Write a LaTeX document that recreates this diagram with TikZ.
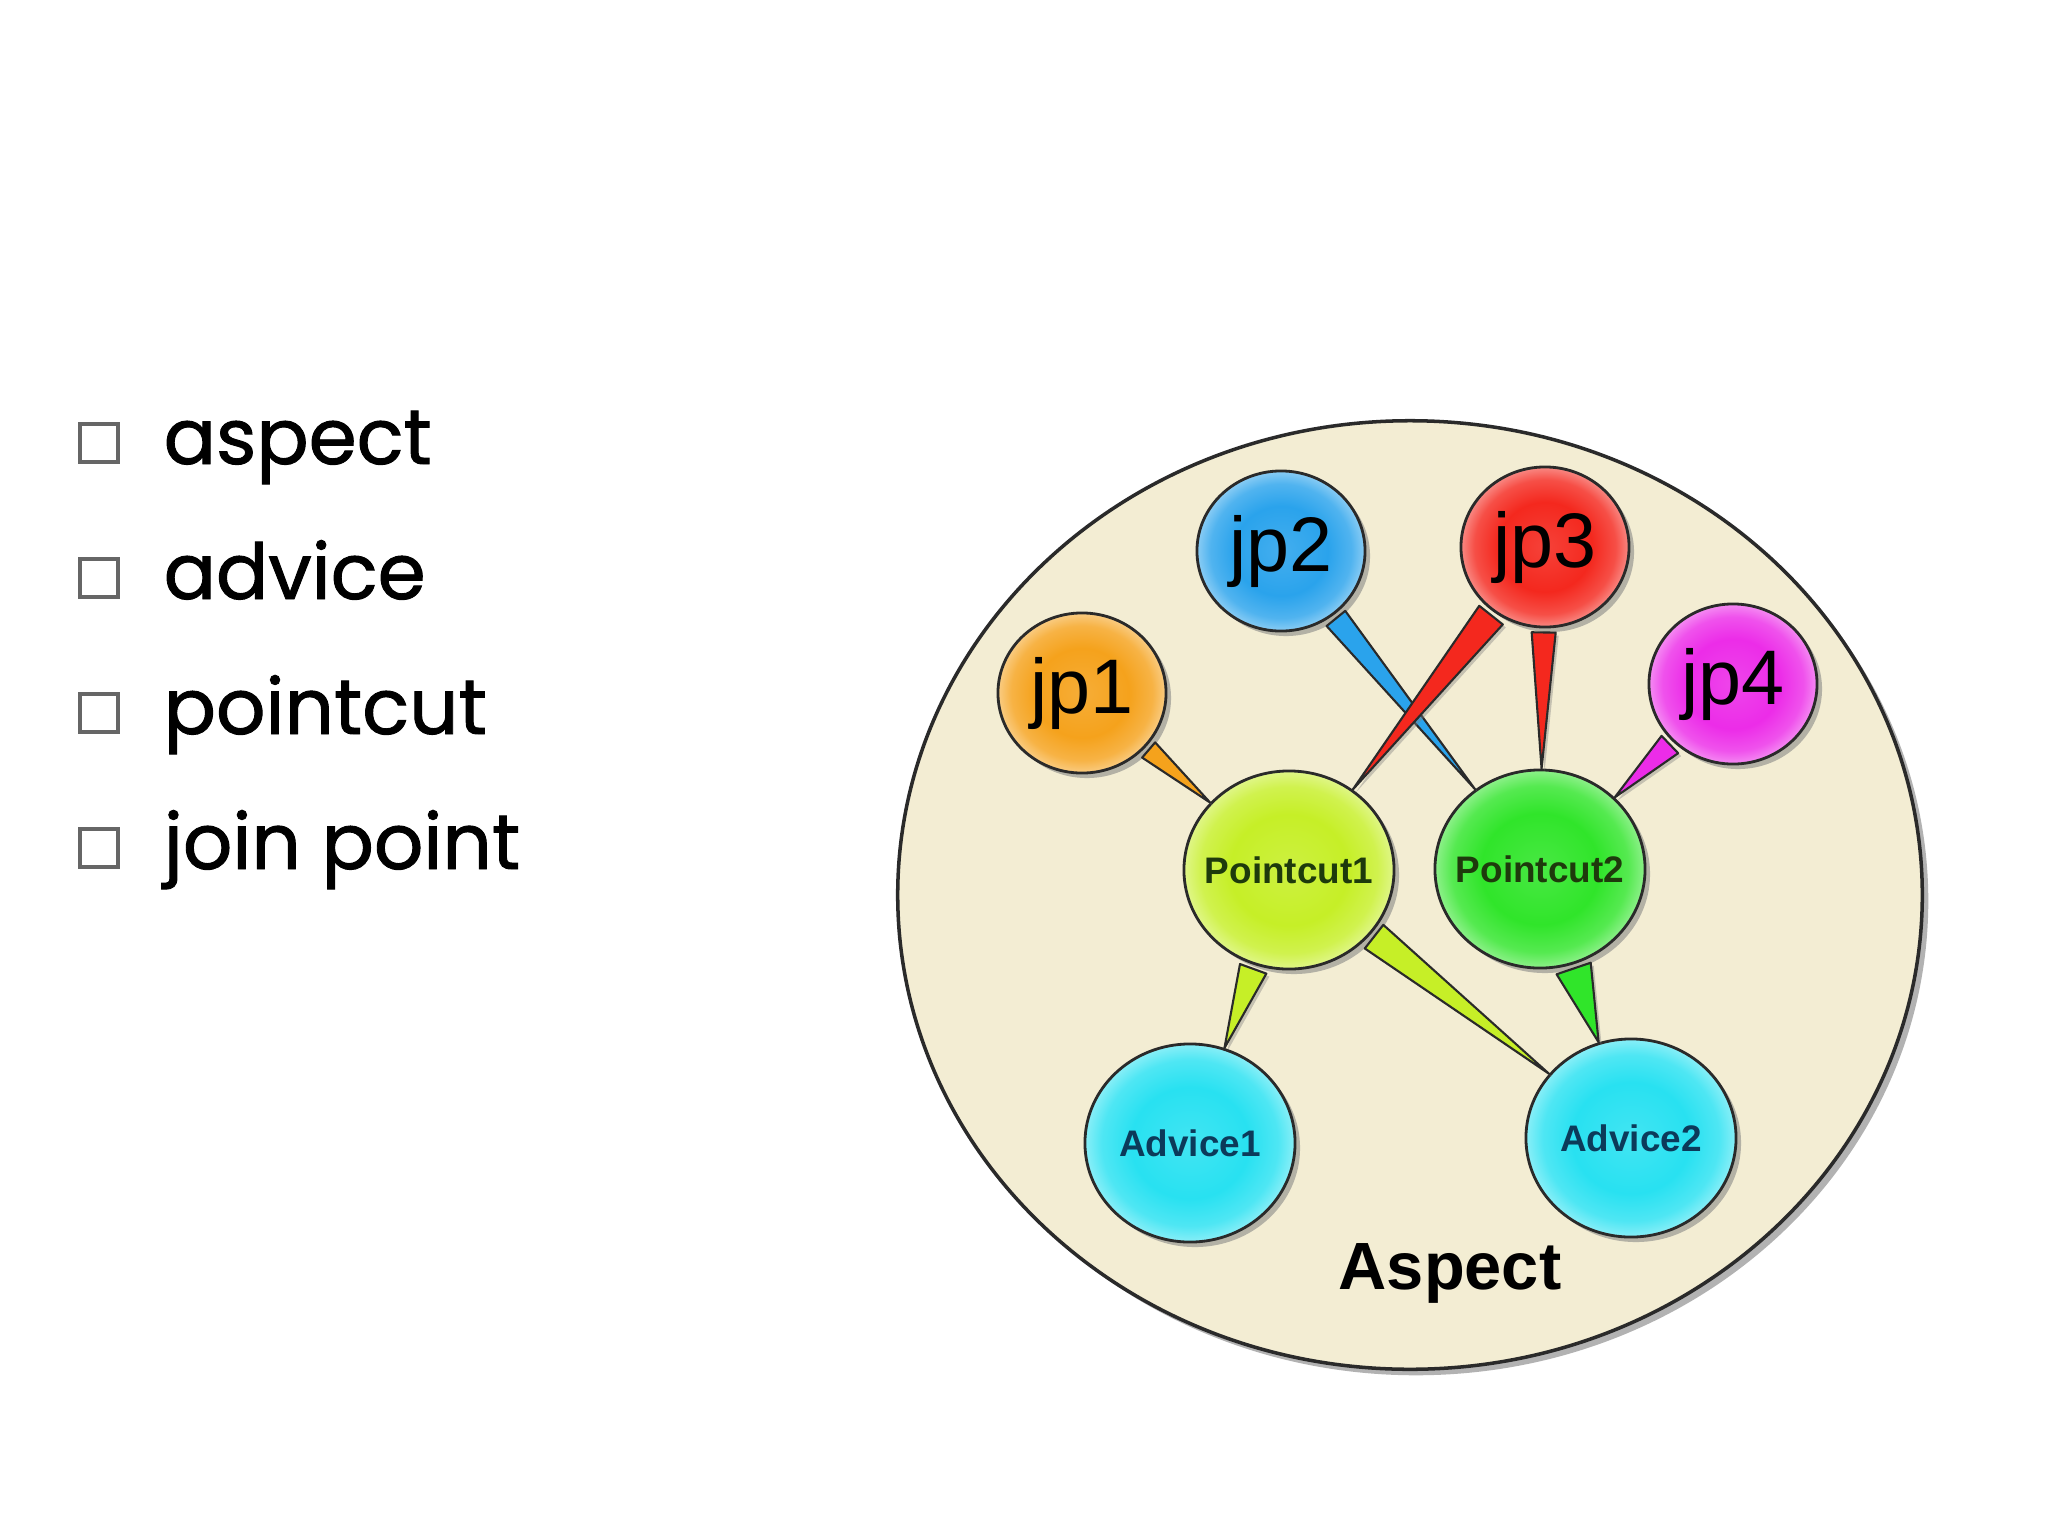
\documentclass[tikz,border=0pt]{standalone}
\usepackage{fontspec}
\setmainfont{Liberation Sans}
\newfontfamily\listfont{Poppins}[FakeBold=1.2]
\usepackage{xcolor}
\usepackage{tikz}
\usetikzlibrary{calc,shapes.geometric,shadows,positioning}

\definecolor{aspectbg}{HTML}{F3EDD3}
\definecolor{ballline}{HTML}{2A2A2A}
\definecolor{jponecol}{HTML}{F5A21C}
\definecolor{jptwocol}{HTML}{2AA3EC}
\definecolor{jpthreecol}{HTML}{F4281E}
\definecolor{jpfourcol}{HTML}{EC2CE8}
\definecolor{pcutonecol}{HTML}{C6EF27}
\definecolor{pcuttwocol}{HTML}{30E52A}
\definecolor{advicecol}{HTML}{28E1F1}
\definecolor{advicetext}{HTML}{0C3A5A}
\definecolor{pcuttext}{HTML}{1E3A0C}

\colorlet{ballc}{white}
\pgfdeclareradialshading[ballc]{glowball}{\pgfpoint{0bp}{0bp}}{%
  color(0bp)=(ballc!88!white); color(14bp)=(ballc); color(21bp)=(ballc!82!white);
  color(25bp)=(ballc!55!white); color(50bp)=(ballc!55!white)}

% tail from one ball to another: colour, from, to, half width
\newcommand{\tail}[4]{%
  \path (#2) -- coordinate[pos=0] (tl-a) coordinate[pos=1] (tl-b) (#3);
  \coordinate (tl-c) at ($(tl-a)!0.04cm!(tl-b)$);
  \filldraw[tailline, fill=#1] ($(tl-c)!#4!90:(tl-b)$) -- (tl-b) -- ($(tl-c)!#4!-90:(tl-b)$) -- cycle;
}

\begin{document}
\begin{tikzpicture}[
        x=0.01cm, y=-0.01cm,
        ball/.style={ellipse, draw=ballline, line width=0.8pt, inner sep=0pt, shading=glowball,
            drop shadow={shadow xshift=0.05cm, shadow yshift=-0.05cm, opacity=0.55}},
        ballcol/.code={\colorlet{ballc}{#1}},
        jp/.style={ball, minimum width=1.68cm, minimum height=1.60cm, font=\fontsize{22}{24}\selectfont},
        big/.style={ball, inner xsep=-0.12cm, minimum width=2.10cm, minimum height=1.98cm,
            font=\bfseries\fontsize{10.5}{12}\selectfont},
        tailline/.style={draw=ballline, line width=0.6pt, line join=round,
            drop shadow={shadow xshift=0.03cm, shadow yshift=-0.03cm, opacity=0.4}},
        sqbox/.style={draw=black!60, line width=0.9pt, minimum size=0.38cm, inner sep=0pt},
        item/.style={anchor=base west, inner sep=0pt, font=\listfont\fontsize{22}{26}\selectfont}
    ]
        \useasboundingbox[fill=white] (0,0) rectangle (2048,1536);

        % list on the left
        \foreach \word [count=\i] in {aspect, advice, pointcut, join point} {
            \node[sqbox] (box\i) at (99, 443+135*\i-135) {};
            \node[item] (item\i) at (163, 464+135*\i-135) {\word};
        }

        % the aspect
        \node[ellipse, draw=ballline, line width=1pt, fill=aspectbg, minimum width=10.24cm, minimum height=9.48cm,
            drop shadow={shadow xshift=0.06cm, shadow yshift=-0.06cm, opacity=0.6}] (aspect) at (1410, 895) {};
        \node[font=\bfseries\fontsize{19}{21}\selectfont] (aspectlbl) at (1450, 1273) {Aspect};

        \node[jp, ballcol=jponecol] (jp1) at (1082, 693) {jp1};
        \node[jp, ballcol=jptwocol] (jp2) at (1281, 551) {jp2};
        \node[jp, ballcol=jpthreecol] (jp3) at (1545, 547) {jp3};
        \node[jp, ballcol=jpfourcol] (jp4) at (1733, 684) {jp4};

        \node[big, ballcol=pcutonecol, text=pcuttext] (pcut1) at (1289, 870) {Pointcut1};
        \node[big, ballcol=pcuttwocol, text=pcuttext] (pcut2) at (1540, 869) {Pointcut2};
        \node[big, ballcol=advicecol, text=advicetext] (adv1) at (1190, 1143) {Advice1};
        \node[big, ballcol=advicecol, text=advicetext] (adv2) at (1631, 1138) {Advice2};

        \tail{jponecol}{jp1}{pcut1}{0.10cm}
        \tail{jptwocol}{jp2}{pcut2}{0.12cm}
        \tail{jpthreecol}{jp3}{pcut1}{0.15cm}
        \tail{jpthreecol}{jp3}{pcut2}{0.12cm}
        \tail{jpfourcol}{jp4}{pcut2}{0.12cm}
        \tail{pcutonecol}{pcut1}{adv1}{0.14cm}
        \tail{pcutonecol}{pcut1}{adv2}{0.15cm}
        \tail{pcuttwocol}{pcut2}{adv2}{0.18cm}
    \end{tikzpicture}
\end{document}
